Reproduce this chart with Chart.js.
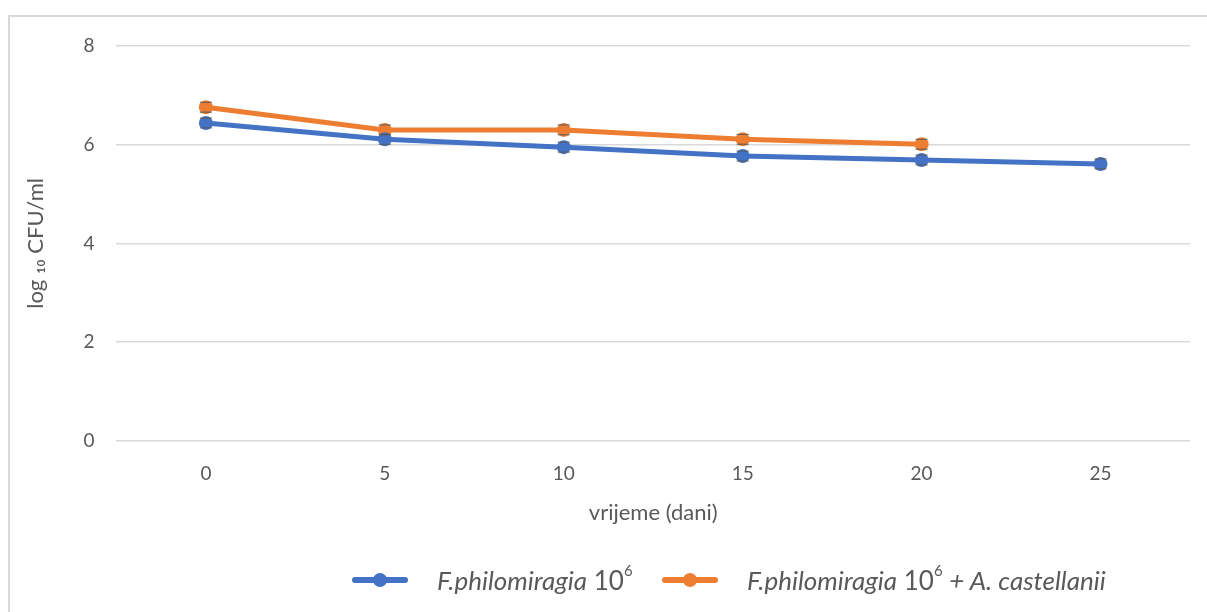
<!DOCTYPE html>
<html>
<head>
<meta charset="utf-8">
<script src="https://cdn.jsdelivr.net/npm/chart.js@4"></script>
<style>
  html, body { margin:0; padding:0; background:#fff; }
  body { width:1207px; height:612px; position:relative; overflow:hidden; font-family: Lato, "Open Sans", sans-serif; }
  #frame { position:absolute; left:8px; top:15px; width:1220px; height:620px; border:2px solid #d9d9d9; box-sizing:border-box; }
  #wrap { position:absolute; left:0; top:0; width:1207px; height:612px; }
  #legend { position:absolute; top:565px; left:0; width:1207px; height:30px; font-size:26px; color:#595959; }
  .item { position:absolute; top:0; display:flex; align-items:center; height:30px; white-space:nowrap; }
  .mk { position:relative; width:56px; height:14px; margin-right:29px; flex:none; }
  .mk .ln { position:absolute; left:0; right:0; top:4px; height:6px; border-radius:3px; }
  .mk .dt { position:absolute; left:21px; top:0; width:14px; height:14px; border-radius:50%; }
  i { font-style:italic; }
  sup { font-size:15px; position:relative; top:-3px; vertical-align:top; }
</style>
</head>
<body>
<div id="frame"></div>
<div id="wrap"><canvas id="c" width="1207" height="612"></canvas></div>
<div id="legend"></div>
<script>
const categories = ["0", "5", "10", "15", "20", "25"];
const seriesBlue = [6.44, 6.11, 5.95, 5.77, 5.69, 5.61];
const seriesOrange = [6.76, 6.30, 6.30, 6.11, 6.01, null];
const errBlue = [0.1, 0.1, 0.1, 0.1, 0.1, 0.1];
const errOrange = [0.1, 0.1, 0.1, 0.1, 0.1, null];
const yTicks = [0, 2, 4, 6, 8];
const seriesNames = ["F.philomiragia 10⁶", "F.philomiragia 10⁶ + A. castellanii"];
const colors = ["#4472C4", "#ED7D31"];

const errorBarPlugin = {
  id: 'errbars',
  afterDatasetsDraw(chart) {
    const ctx = chart.ctx;
    const y = chart.scales.y;
    const errs = [errBlue, errOrange];
    ctx.save();
    ctx.strokeStyle = '#595959';
    ctx.lineWidth = 1;
    chart.data.datasets.forEach((ds, i) => {
      const meta = chart.getDatasetMeta(i);
      meta.data.forEach((pt, j) => {
        const v = ds.data[j];
        const e = errs[i][j];
        if (v == null || e == null) return;
        const yt = y.getPixelForValue(v + e), yb = y.getPixelForValue(v - e);
        ctx.beginPath();
        ctx.moveTo(pt.x - 6, yt); ctx.lineTo(pt.x + 6, yt);
        ctx.moveTo(pt.x - 6, yb); ctx.lineTo(pt.x + 6, yb);
        ctx.stroke();
      });
    });
    ctx.restore();
  }
};

Chart.defaults.font.family = "Lato, 'Open Sans', sans-serif";
Chart.defaults.color = "#595959";

new Chart(document.getElementById('c'), {
  type: 'line',
  data: {
    labels: categories,
    datasets: [
      { label: seriesNames[0], data: seriesBlue, borderColor: colors[0], backgroundColor: colors[0],
        borderWidth: 5, pointRadius: 7, pointHoverRadius: 7, pointBorderWidth: 0, tension: 0 },
      { label: seriesNames[1], data: seriesOrange, borderColor: colors[1], backgroundColor: colors[1],
        borderWidth: 5, pointRadius: 7, pointHoverRadius: 7, pointBorderWidth: 0, tension: 0 }
    ]
  },
  options: {
    responsive: false,
    animation: false,
    events: [],
    layout: { padding: { top: 46, right: 17, bottom: 82, left: 19 } },
    plugins: { legend: { display: false }, tooltip: { enabled: false } },
    scales: {
      x: {
        offset: true,
        grid: { display: false },
        border: { display: false },
        ticks: { font: { size: 19 }, color: '#595959', padding: 14 },
        title: { display: true, text: 'vrijeme (dani)', font: { size: 22 }, color: '#595959', padding: { top: 0, bottom: 4 } }
      },
      y: {
        min: 0, max: 8,
        afterBuildTicks(scale) { scale.ticks = yTicks.map(v => ({ value: v })); },
        grid: { color: '#d9d9d9', lineWidth: 1.5, drawTicks: false },
        border: { display: false },
        ticks: { font: { size: 19 }, color: '#595959', padding: 22 },
        title: { display: true, text: 'log ₁₀ CFU/ml', font: { size: 22 }, color: '#595959', padding: { bottom: 12 } }
      }
    }
  },
  plugins: [errorBarPlugin]
});

// HTML legend with mixed italic styling
const legend = document.getElementById('legend');
const legendParts = [
  { left: 352, color: colors[0], html: '<i>F.philomiragia</i>&nbsp;10<sup>6</sup>' },
  { left: 662, color: colors[1], html: '<i>F.philomiragia</i>&nbsp;10<sup>6</sup>&nbsp;<i>+ A. castellanii</i>' }
];
legendParts.forEach(p => {
  const d = document.createElement('div');
  d.className = 'item';
  d.style.left = p.left + 'px';
  d.innerHTML = '<div class="mk"><div class="ln" style="background:' + p.color + '"></div><div class="dt" style="background:' + p.color + '"></div></div><span>' + p.html + '</span>';
  legend.appendChild(d);
});
</script>
</body>
</html>
